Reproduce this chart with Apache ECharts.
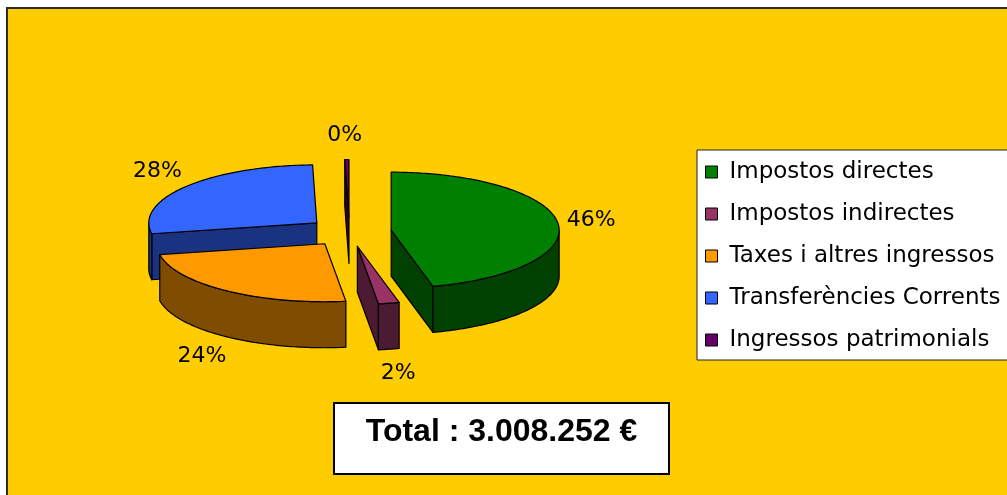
<!DOCTYPE html>
<html>
<head>
<meta charset="utf-8">
<script src="https://cdn.jsdelivr.net/npm/echarts@6/dist/echarts.min.js"></script>
<style>
  html, body { margin: 0; padding: 0; background: #fff; }
  #chart { width: 1007px; height: 495px; }
</style>
</head>
<body>
<div id="chart"></div>
<script>
// values (share of total, %)
const names = ['Impostos directes', 'Impostos indirectes', 'Taxes i altres ingressos', 'Transferències Corrents', 'Ingressos patrimonials']
const shares = [46.0, 2.0, 24.0, 27.6, 0.4]
const topColors = ['#008000', '#993366', '#FF9900', '#3366FF', '#660066']
const sideColors = ['#004000', '#4D1A33', '#804D00', '#1A3380', '#330033']
const totalText = 'Total : 3.008.252 €'

// 3d pie layout
const CX = 349.5
const CY = 232
const RX = 168
const RY = 58
const DEPTH = 46
const EXPLODE = 0.25

const total = shares.reduce((a, b) => a + b, 0)

function sliceInfo(i) {
    let before = 0
    for (let k = 0; k < i; k++) before += shares[k]
    const start = (before / total) * Math.PI * 2
    const end = ((before + shares[i]) / total) * Math.PI * 2
    const mid = (start + end) / 2
    const cx = CX + EXPLODE * RX * Math.sin(mid)
    const cy = CY - EXPLODE * RY * Math.cos(mid)
    return { start, end, mid, cx, cy }
}

function rim(s, a, dy) {
    return [s.cx + RX * Math.sin(a), s.cy - RY * Math.cos(a) + (dy || 0)]
}

function arc(s, a0, a1, dy) {
    const pts = []
    const n = Math.max(2, Math.ceil(((a1 - a0) * 180) / Math.PI))
    for (let k = 0; k <= n; k++) pts.push(rim(s, a0 + ((a1 - a0) * k) / n, dy))
    return pts
}

const edge = { stroke: '#000', lineWidth: 1.2, lineJoin: 'round' }

function renderSlice(i) {
    return function (params, api) {
        const s = sliceInfo(i)
        const faces = []
        const c = [s.cx, s.cy]
        const cb = [s.cx, s.cy + DEPTH]
        // radial walls facing the viewer
        if (s.start > Math.PI && s.start < Math.PI * 2) {
            faces.push([c, rim(s, s.start), rim(s, s.start, DEPTH), cb])
        }
        if (s.end > 0 && s.end < Math.PI) {
            faces.push([c, rim(s, s.end), rim(s, s.end, DEPTH), cb])
        }
        // front part of the outer wall
        const a0 = Math.max(s.start, Math.PI / 2)
        const a1 = Math.min(s.end, Math.PI * 1.5)
        if (a1 > a0) {
            faces.push(arc(s, a0, a1, 0).concat(arc(s, a0, a1, DEPTH).reverse()))
        }
        const children = faces.map((pts, k) => ({
            type: 'polygon',
            z2: k,
            shape: { points: pts },
            style: Object.assign({ fill: sideColors[i] }, edge),
        }))
        children.push({
            type: 'polygon',
            z2: 10,
            shape: { points: [c].concat(arc(s, s.start, s.end, 0)) },
            style: Object.assign({ fill: topColors[i] }, edge),
        })

        // percentage label outside the slice
        const label = Math.round((shares[i] / total) * 100) + '%'
        const sx = Math.sin(s.mid)
        const sy = -Math.cos(s.mid)
        const anchor = rim(s, s.mid, sy > 0 ? DEPTH : 0)
        const hw = ((label.length - 1) * 14 + 21) / 2
        children.push({
            type: 'text',
            z2: 20,
            x: anchor[0] + sx * 9 + Math.sign(sx) * hw * Math.sqrt(Math.abs(sx)),
            y: anchor[1] + sy * 24,
            style: {
                text: label,
                fill: '#000',
                font: '22px "DejaVu Sans"',
                align: 'center',
                verticalAlign: 'middle',
            },
        })
        return { type: 'group', children }
    }
}

// paint back to front
const order = shares
    .map((v, i) => {
        const s = sliceInfo(i)
        return { i, y: s.cy - RY * 0.5 * Math.cos(s.mid) }
    })
    .sort((a, b) => a.y - b.y)
const zOf = {}
order.forEach((o, rank) => (zOf[o.i] = 2 + rank))

const option = {
    animation: false,
    backgroundColor: '#fff',
    graphic: {
        elements: [
            {
                type: 'rect',
                z: 0,
                shape: { x: 7, y: 8, width: 1100, height: 600 },
                style: { fill: '#FFCC00', stroke: '#2a2a2a', lineWidth: 2 },
            },
            {
                type: 'group',
                z: 20,
                children: [
                    {
                        type: 'rect',
                        shape: { x: 334, y: 403, width: 335, height: 71 },
                        style: { fill: '#fff', stroke: '#000', lineWidth: 2 },
                    },
                    {
                        type: 'text',
                        x: 501.5,
                        y: 432,
                        style: {
                            text: totalText,
                            fill: '#000',
                            font: 'bold 32px "Liberation Sans"',
                            align: 'center',
                            verticalAlign: 'middle',
                        },
                    },
                ],
            },
        ],
    },
    legend: {
        orient: 'vertical',
        left: 697,
        top: 150,
        z: 20,
        data: names,
        icon: 'rect',
        itemWidth: 12,
        itemHeight: 12,
        itemGap: 18,
        padding: [10, 20, 8, 8],
        backgroundColor: '#fff',
        borderColor: '#222',
        borderWidth: 1,
        borderRadius: 0,
        itemStyle: { borderColor: '#000', borderWidth: 1 },
        textStyle: {
            fontFamily: 'DejaVu Sans',
            fontSize: 23,
            lineHeight: 24,
            color: '#000',
            padding: [0, 0, 0, 7],
        },
    },
    series: names.map((name, i) => ({
        name,
        type: 'custom',
        coordinateSystem: 'none',
        z: zOf[i],
        itemStyle: { color: topColors[i] },
        data: [[shares[i]]],
        renderItem: renderSlice(i),
    })),
}

const chart = echarts.init(document.getElementById('chart'))
chart.setOption(option)
window.addEventListener('resize', () => chart.resize())
</script>
</body>
</html>
